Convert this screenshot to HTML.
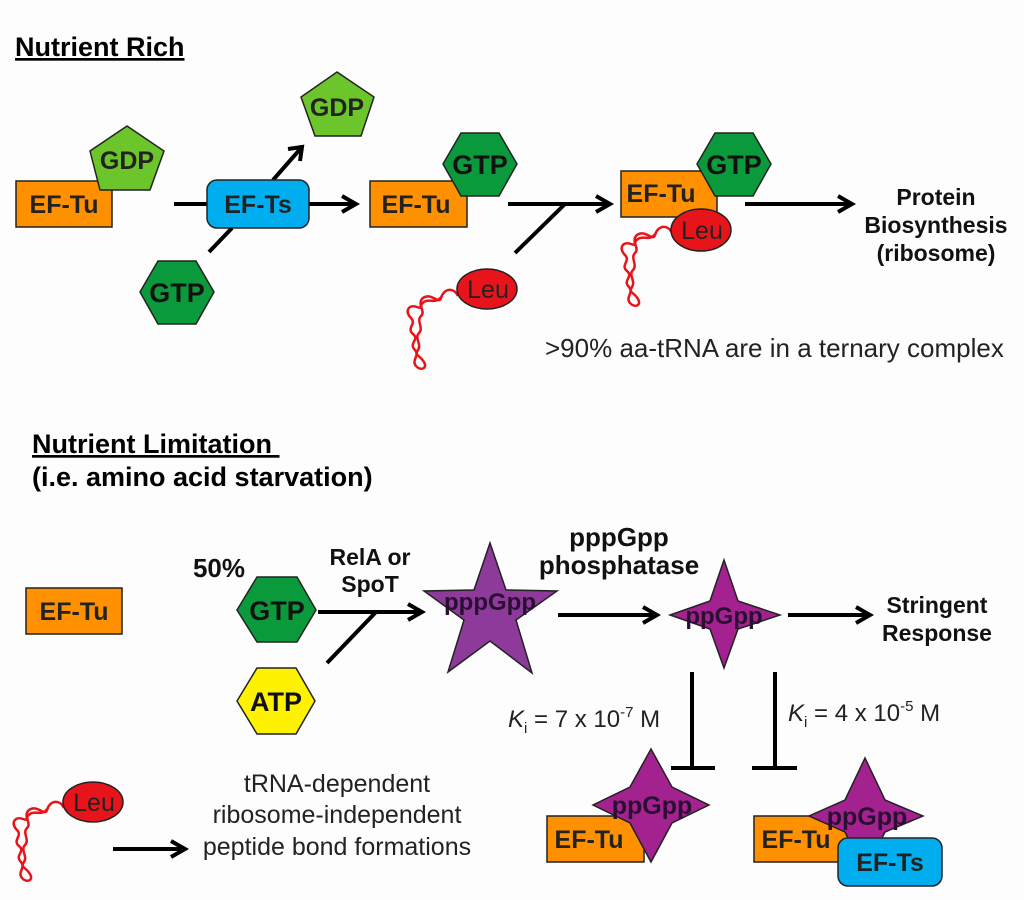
<!DOCTYPE html>
<html><head><meta charset="utf-8"><style>
html,body{margin:0;padding:0;background:#fdfdfd;}
svg{display:block;}
text{font-family:"Liberation Sans",Arial,sans-serif;}
.b{font-weight:bold;}
</style></head><body>
<svg width="1024" height="900" viewBox="0 0 1024 900" xmlns="http://www.w3.org/2000/svg">
<defs>
<path id="sq" d="M0,0 c-4,-9 -14,-8 -17,2 c-2,7 -10,-6 -18,0 c-6,5 2,12 -6,9 c-8,-3 -13,4 -6,11 c6,6 -5,10 2,16 c7,6 -5,9 2,16 c5,6 -4,10 1,16 c4,5 12,3 8,-4 c-4,-7 -10,-6 -6,-12 c4,-6 -4,-12 1,-17 c5,-5 -3,-12 2,-17 c5,-5 -4,-10 3,-14 c6,-4 12,3 18,-6" fill="none" stroke="#e8141b" stroke-width="2.5"/>
</defs>
<g stroke="#000" stroke-width="4" fill="none" stroke-linecap="butt">
<line x1="174" y1="204" x2="356" y2="204"/>
<polyline points="342,196 356,204 342,212"/>
<line x1="209" y1="252" x2="232" y2="228"/>
<line x1="273" y1="180" x2="302" y2="147"/>
<polyline points="288,149 302,147 300,161"/>
<line x1="508" y1="204" x2="610" y2="204"/>
<polyline points="596,196 610,204 596,212"/>
<line x1="515" y1="253" x2="565" y2="204"/>
<line x1="745" y1="204" x2="852" y2="204"/>
<polyline points="838,196 852,204 838,212"/>
<line x1="318" y1="612" x2="422" y2="612"/>
<polyline points="408,604 422,612 408,620"/>
<line x1="327" y1="663" x2="376" y2="612"/>
<line x1="558" y1="615" x2="657" y2="615"/>
<polyline points="643,607 657,615 643,623"/>
<line x1="788" y1="615" x2="870" y2="615"/>
<polyline points="856,607 870,615 856,623"/>
<line x1="692" y1="672" x2="692" y2="768"/>
<line x1="671" y1="768" x2="715" y2="768"/>
<line x1="775" y1="672" x2="775" y2="768"/>
<line x1="752" y1="768" x2="797" y2="768"/>
<line x1="113" y1="849" x2="185" y2="849"/>
<polyline points="171,841 185,849 171,857"/>
</g>

<text x="15" y="56" class="b" font-size="27" text-decoration="underline">Nutrient Rich</text>

<rect x="16" y="181" width="96" height="46" fill="#ff9100" stroke="#222" stroke-width="1.5"/>
<text x="64" y="213" class="b" font-size="25" text-anchor="middle" fill="#222">EF-Tu</text>
<polygon points="127,126 164,151 150,190 100,190 90,151" fill="#6cc52a" stroke="#222" stroke-width="1.5"/>
<text x="127" y="169" class="b" font-size="25" text-anchor="middle" fill="#222">GDP</text>

<rect x="207" y="180" width="102" height="48" rx="10" fill="#00aeef" stroke="#222" stroke-width="1.5"/>
<text x="258" y="213" class="b" font-size="25" text-anchor="middle" fill="#222">EF-Ts</text>

<polygon points="337,72 374,97 361,136 315,136 301,97" fill="#6cc52a" stroke="#222" stroke-width="1.5"/>
<text x="337" y="116" class="b" font-size="25" text-anchor="middle" fill="#222">GDP</text>

<polygon points="140,292 158,261 196,261 214,292 196,324 158,324" fill="#0a9a3c" stroke="#222" stroke-width="1.5"/>
<text x="177" y="302" class="b" font-size="27" text-anchor="middle" fill="#111">GTP</text>

<rect x="370" y="181" width="97" height="46" fill="#ff9100" stroke="#222" stroke-width="1.5"/>
<text x="416" y="213" class="b" font-size="25" text-anchor="middle" fill="#222">EF-Tu</text>
<polygon points="443,164 461,133 499,133 517,164 499,196 461,196" fill="#0a9a3c" stroke="#222" stroke-width="1.5"/>
<text x="480" y="174" class="b" font-size="27" text-anchor="middle" fill="#111">GTP</text>

<use href="#sq" transform="translate(458,296)"/>
<ellipse cx="487" cy="289" rx="30" ry="20" fill="#e8141b" stroke="#222" stroke-width="1.5"/>
<text x="488" y="298" font-size="25" text-anchor="middle" fill="#222">Leu</text>

<rect x="621" y="171" width="96" height="46" fill="#ff9100" stroke="#222" stroke-width="1.5"/>
<text x="661" y="202" class="b" font-size="25" text-anchor="middle" fill="#222">EF-Tu</text>
<polygon points="697,164 715,133 753,133 771,164 753,196 715,196" fill="#0a9a3c" stroke="#222" stroke-width="1.5"/>
<text x="734" y="174" class="b" font-size="27" text-anchor="middle" fill="#111">GTP</text>
<use href="#sq" transform="translate(672,233)"/>
<ellipse cx="701" cy="230" rx="30" ry="21" fill="#e8141b" stroke="#222" stroke-width="1.5"/>
<text x="702" y="239" font-size="25" text-anchor="middle" fill="#222">Leu</text>

<g class="b" font-size="23" text-anchor="middle" fill="#111">
<text x="936" y="205">Protein</text>
<text x="936" y="233">Biosynthesis</text>
<text x="936" y="261">(ribosome)</text>
</g>
<text x="545" y="357" font-size="26" fill="#222">&gt;90% aa-tRNA are in a ternary complex</text>

<text x="32" y="453" class="b" font-size="27" text-decoration="underline">Nutrient Limitation&#160;</text>
<text x="32" y="486" class="b" font-size="27">(i.e. amino acid starvation)</text>

<rect x="26" y="588" width="96" height="46" fill="#ff9100" stroke="#222" stroke-width="1.5"/>
<text x="74" y="620" class="b" font-size="25" text-anchor="middle" fill="#222">EF-Tu</text>

<text x="219" y="577" class="b" font-size="26" text-anchor="middle" fill="#111">50%</text>
<polygon points="237,610 257,577 297,577 316,610 297,642 257,642" fill="#0a9a3c" stroke="#222" stroke-width="1.5"/>
<text x="277" y="620" class="b" font-size="27" text-anchor="middle" fill="#111">GTP</text>
<polygon points="237,701 257,668 296,668 315,701 296,734 257,734" fill="#fff200" stroke="#222" stroke-width="1.5"/>
<text x="276" y="711" class="b" font-size="27" text-anchor="middle" fill="#111">ATP</text>

<g class="b" text-anchor="middle" fill="#111">
<text x="370" y="565" font-size="23">RelA or</text>
<text x="370" y="592" font-size="23">SpoT</text>
<text x="619" y="546" font-size="26">pppGpp</text>
<text x="619" y="574" font-size="26">phosphatase</text>
<text x="937" y="613" font-size="23">Stringent</text>
<text x="937" y="641" font-size="23">Response</text>
</g>

<polygon points="490,543 506,590 557,591 516,620 532,673 490,641 448,672 464,620 424,591 474,590" fill="#8e3a9b" stroke="#222" stroke-width="1.5"/>
<text x="490" y="610" class="b" font-size="24" text-anchor="middle" fill="#2a1030">pppGpp</text>

<polygon points="724,560 738,601 780,615 738,629 724,668 710,629 670,615 710,601" fill="#a3228f" stroke="#222" stroke-width="1.5"/>
<text x="724" y="624" class="b" font-size="24" text-anchor="middle" fill="#2a1030">ppGpp</text>

<text x="508" y="727" font-size="24" fill="#222"><tspan font-style="italic">K</tspan><tspan font-size="15" dy="6">i</tspan><tspan dy="-6"> = 7 x 10</tspan><tspan font-size="15" dy="-10">-7</tspan><tspan dy="10"> M</tspan></text>
<text x="788" y="721" font-size="24" fill="#222"><tspan font-style="italic">K</tspan><tspan font-size="15" dy="6">i</tspan><tspan dy="-6"> = 4 x 10</tspan><tspan font-size="15" dy="-10">-5</tspan><tspan dy="10"> M</tspan></text>

<rect x="547" y="816" width="97" height="46" fill="#ff9100" stroke="#222" stroke-width="1.5"/>
<text x="589" y="848" class="b" font-size="25" text-anchor="middle" fill="#222">EF-Tu</text>
<polygon points="651,749 672,787 709,805 672,823 651,862 630,823 593,805 630,787" fill="#a3228f" stroke="#222" stroke-width="1.5"/>
<text x="652" y="814" class="b" font-size="25" text-anchor="middle" fill="#2a1030">ppGpp</text>

<rect x="754" y="816" width="96" height="46" fill="#ff9100" stroke="#222" stroke-width="1.5"/>
<text x="796" y="848" class="b" font-size="25" text-anchor="middle" fill="#222">EF-Tu</text>
<polygon points="865,758 885,800 923,816 885,832 865,872 845,832 809,816 845,800" fill="#a3228f" stroke="#222" stroke-width="1.5"/>
<text x="867" y="825" class="b" font-size="25" text-anchor="middle" fill="#2a1030">ppGpp</text>
<rect x="838" y="838" width="104" height="48" rx="10" fill="#00aeef" stroke="#222" stroke-width="1.5"/>
<text x="890" y="871" class="b" font-size="25" text-anchor="middle" fill="#222">EF-Ts</text>

<use href="#sq" transform="translate(64,808)"/>
<ellipse cx="93" cy="802" rx="30" ry="20" fill="#e8141b" stroke="#222" stroke-width="1.5"/>
<text x="94" y="811" font-size="25" text-anchor="middle" fill="#222">Leu</text>

<g font-size="25" text-anchor="middle" fill="#222">
<text x="337" y="792">tRNA-dependent</text>
<text x="337" y="823">ribosome-independent</text>
<text x="337" y="855">peptide bond formations</text>
</g>
</svg>
</body></html>
